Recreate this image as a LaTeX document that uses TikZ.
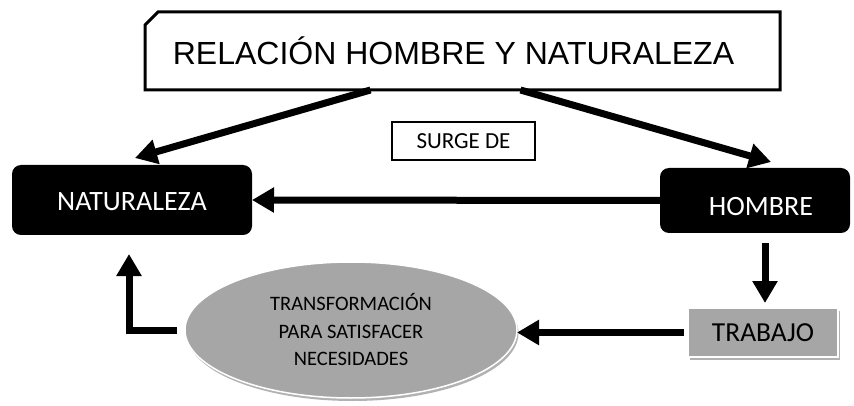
\documentclass[tikz,border=0pt]{standalone}
\usepackage{fontspec}
\setmainfont{Carlito}
\newfontfamily\arialf{Liberation Sans}
\usetikzlibrary{arrows.meta,shapes.geometric,shapes.misc,shadows}
\definecolor{boxgray}{HTML}{A6A6A6}
\tikzset{
  arr/.style={line width=7pt,-{Triangle[width=24pt,length=22pt]}},
  blackbox/.style={fill=black,text=white,rounded corners=9pt,inner sep=0pt,outer sep=0pt,font=\fontsize{28}{32}\selectfont},
  grayshape/.style={fill=boxgray,draw=white,line width=1.5pt,inner sep=0pt,outer sep=0pt,
    drop shadow={shadow xshift=1.5pt,shadow yshift=-3pt,opacity=.3,fill=black}},
}
\begin{document}
\begin{tikzpicture}[x=1pt,y=-1pt]
\useasboundingbox[fill=white] (0,0) rectangle (854,406);
\node[chamfered rectangle,chamfered rectangle corners=north west,chamfered rectangle xsep=6pt,chamfered rectangle ysep=7pt,
  draw,line width=3pt,fill=white,minimum width=635pt,minimum height=78pt,inner sep=0pt,outer sep=0pt,
  font=\arialf\fontsize{32}{36}\selectfont] (title) at (462.5,51) {RELACIÓN HOMBRE Y NATURALEZA\hspace*{18pt}};
\node[draw,line width=1.3pt,minimum width=143pt,minimum height=38pt,inner sep=0pt,font=\fontsize{23}{26}\selectfont] (surge) at (463.5,141) {SURGE DE};
\node[blackbox,minimum width=240pt,minimum height=70pt] (nat) at (132,200) {\raisebox{-11pt}[0pt][0pt]{NATURALEZA}};
\node[blackbox,minimum width=190pt,minimum height=65pt] (hom) at (755,200.5) {\hspace*{12pt}\raisebox{-14.5pt}[0pt][0pt]{HOMBRE}};
\node[grayshape,ellipse,minimum width=332pt,minimum height=136pt,align=center,font=\fontsize{20.5}{27.5}\selectfont] (ell) at (351,330) {TRANSFORMACIÓN\\PARA SATISFACER\\NECESIDADES};
\node[grayshape,minimum width=150pt,minimum height=49pt,font=\fontsize{27.5}{30}\selectfont] (trab) at (763,332.5) {TRABAJO};
\draw[arr] ([xshift=-92pt]title.south) -- ([xshift=3pt,yshift=7pt]nat.north);
\draw[arr] ([xshift=58pt]title.south) -- ([xshift=16pt,yshift=6pt]hom.north);
\draw[arr] (hom.west) -- (nat.east);
\draw[arr] ([xshift=10pt,yshift=-10pt]hom.south) -- ([xshift=2pt,yshift=5pt]trab.north);
\draw[arr] ([xshift=-4pt]trab.west) -- (trab.west -| ell.east);
\draw[arr] ([xshift=-8pt]ell.west) -| ([xshift=-3pt,yshift=-19pt]nat.south);
\end{tikzpicture}
\end{document}
